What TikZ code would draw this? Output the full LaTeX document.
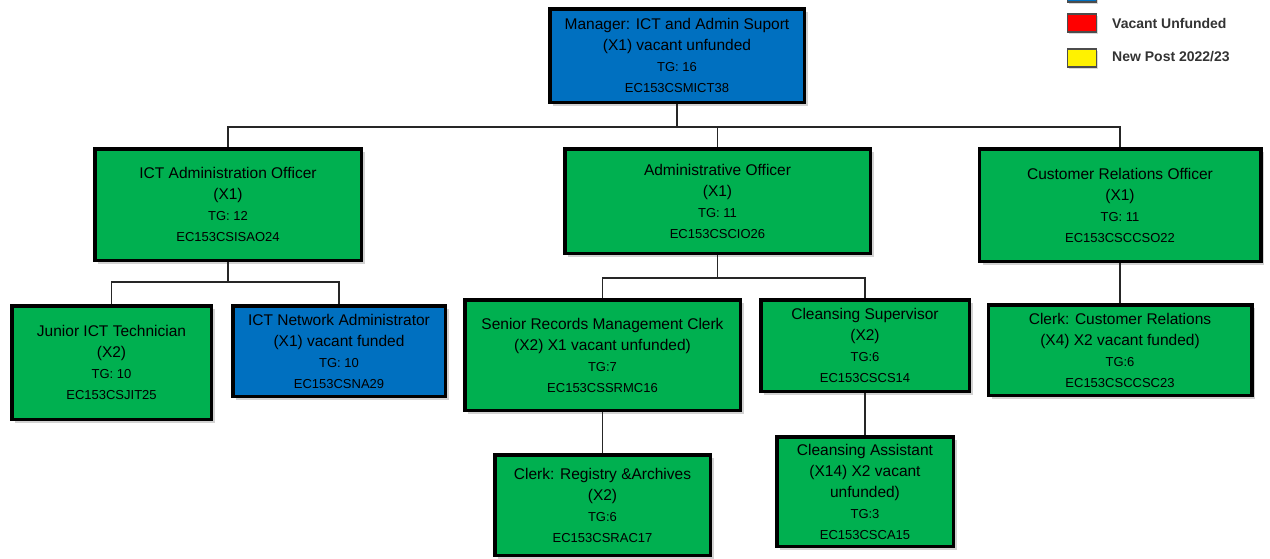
\documentclass[tikz,border=0pt]{standalone}
\usepackage{fontspec}
\setmainfont{Liberation Sans}
\usetikzlibrary{shadows}

\definecolor{postgreen}{RGB}{0,176,80}
\definecolor{postblue}{RGB}{0,112,192}
\definecolor{legtext}{RGB}{51,51,51}

% smaller type for the grade and post-code lines
\newcommand{\gradetxt}{\fontsize{13}{21}\selectfont}

\tikzset{
  post/.style={draw=black, line width=3.5pt, align=center, inner sep=1pt,
    font=\fontsize{15.5}{21}\selectfont,
    drop shadow={shadow xshift=3.5pt, shadow yshift=-3.5pt, fill=black!35}},
  greenpost/.style={post, fill=postgreen},
  bluepost/.style={post, fill=postblue},
  link/.style={draw=black!85, line width=1.4pt},
  legbox/.style={draw=black!70, line width=1.2pt, minimum width=29pt, minimum height=18pt,
    inner sep=0pt, drop shadow={shadow xshift=1.5pt, shadow yshift=-1.5pt, fill=black!30}},
  legtxt/.style={anchor=west, text=legtext, font=\fontsize{14}{16}\selectfont\bfseries, inner sep=0pt}
}

\begin{document}
\begin{tikzpicture}[x=1pt, y=-1pt]
\useasboundingbox (0,0) rectangle (1270,558);

% legend
\node[legbox, fill=postblue] (kblue) at (1082,-7) {};
\node[legbox, fill=red] (kred) at (1082,23) {};
\node[legbox, fill=yellow] (kyellow) at (1082,58) {};
\node[legtxt] (tred) at (1112,23) {Vacant Unfunded};
\node[legtxt] (tyellow) at (1112,57) {New Post 2022/23};

% level 1
\node[bluepost, minimum width=254.5pt, minimum height=93.5pt] (mgr) at (677,55.5)
  {Manager: ICT and Admin Suport\\(X1) vacant unfunded\\{\gradetxt TG: 16}\\{\gradetxt EC153CSMICT38}};

% level 2
\node[greenpost, minimum width=266.5pt, minimum height=111.5pt] (icto) at (228,204.5)
  {ICT Administration Officer\\(X1)\\{\gradetxt TG: 12}\\{\gradetxt EC153CSISAO24}};
\node[greenpost, minimum width=305.5pt, minimum height=104.5pt] (admo) at (717.5,201)
  {Administrative Officer\\(X1)\\{\gradetxt TG: 11}\\{\gradetxt EC153CSCIO26}};
\node[greenpost, minimum width=281.5pt, minimum height=112.5pt] (cro) at (1120,205)
  {Customer Relations Officer\\(X1)\\{\gradetxt TG: 11}\\{\gradetxt EC153CSCCSO22}};

% level 3
\node[greenpost, minimum width=199.5pt, minimum height=113.5pt] (jit) at (111.5,362.5)
  {Junior ICT Technician\\(X2)\\{\gradetxt TG: 10}\\{\gradetxt EC153CSJIT25}};
\node[bluepost, minimum width=212.5pt, minimum height=90.5pt] (nad) at (339,351)
  {ICT Network Administrator\\(X1) vacant funded\\{\gradetxt TG: 10}\\{\gradetxt EC153CSNA29}};
\node[greenpost, minimum width=275.5pt, minimum height=110.5pt] (srm) at (602.5,355)
  {Senior Records Management Clerk\\(X2) X1 vacant unfunded)\\{\gradetxt TG:7}\\{\gradetxt EC153CSSRMC16}};
\node[greenpost, minimum width=208.5pt, minimum height=91.5pt] (csup) at (865,345.5)
  {Cleansing Supervisor\\(X2)\\{\gradetxt TG:6}\\{\gradetxt EC153CSCS14}};
\node[greenpost, minimum width=263.5pt, minimum height=90.5pt] (ccr) at (1120,350)
  {Clerk: Customer Relations\\(X4) X2 vacant funded)\\{\gradetxt TG:6}\\{\gradetxt EC153CSCCSC23}};

% level 4
\node[greenpost, minimum width=215.5pt, minimum height=100.5pt] (reg) at (602.5,505)
  {Clerk: Registry \&Archives\\(X2)\\{\gradetxt TG:6}\\{\gradetxt EC153CSRAC17}};
\node[greenpost, minimum width=176.5pt, minimum height=109.5pt] (cass) at (865,491.5)
  {Cleansing Assistant\\(X14) X2 vacant\\unfunded)\\{\gradetxt TG:3}\\{\gradetxt EC153CSCA15}};

% bus lines
\coordinate (bus1) at (0,127);
\coordinate (bus2) at (0,282);
\coordinate (bus3) at (0,278);

% manager to the three officers
\draw[link] (mgr.south) -- (mgr.south |- bus1);
\draw[link] (icto.north) |- (bus1 -| cro.north) -- (cro.north);
\draw[link] (admo.north) -- (admo.north |- bus1);

% ICT administration officer to its two posts
\draw[link] (icto.south) -- (icto.south |- bus2);
\draw[link] (jit.north) |- (bus2 -| nad.north) -- (nad.north);

% administrative officer to its two posts
\draw[link] (admo.south) -- (admo.south |- bus3);
\draw[link] (srm.north) |- (bus3 -| csup.north) -- (csup.north);

% single reporting lines
\draw[link] (cro.south) -- (ccr.north);
\draw[link] (srm.south) -- (reg.north);
\draw[link] (csup.south) -- (cass.north);
\end{tikzpicture}
\end{document}
